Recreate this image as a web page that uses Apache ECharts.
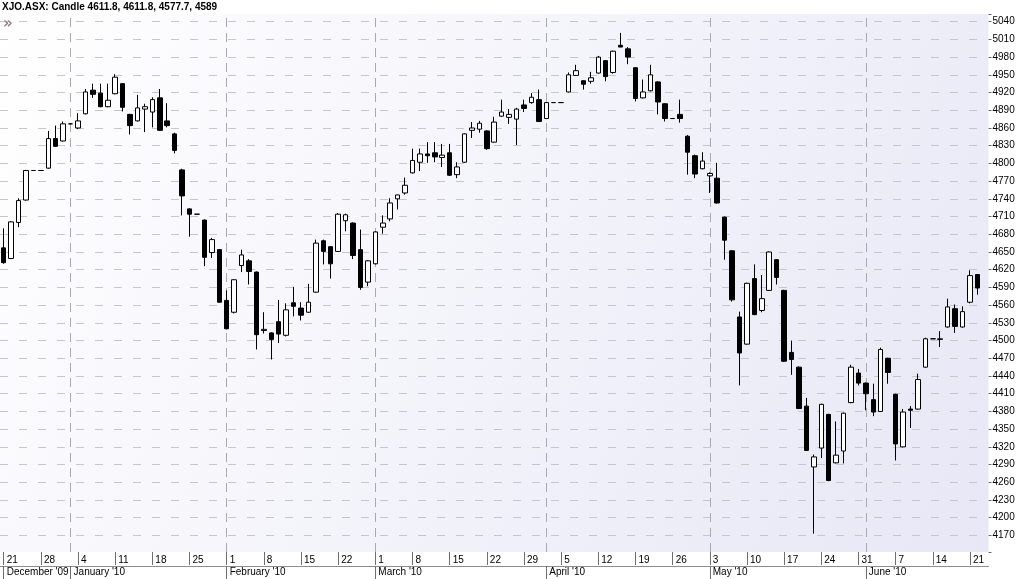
<!DOCTYPE html>
<html><head><meta charset="utf-8">
<script src="https://cdn.jsdelivr.net/npm/echarts@6/dist/echarts.min.js"></script>
<style>html,body{margin:0;padding:0;background:#fff}#c{width:1020px;height:579px}</style>
</head><body><div id="c"></div>
<script>
const symbol = 'XJO.ASX';
const dates = [
'2009-12-21','2009-12-22','2009-12-23','2009-12-24','2009-12-25',
'2009-12-28','2009-12-29','2009-12-30','2009-12-31','2010-01-01',
'2010-01-04','2010-01-05','2010-01-06','2010-01-07','2010-01-08',
'2010-01-11','2010-01-12','2010-01-13','2010-01-14','2010-01-15',
'2010-01-18','2010-01-19','2010-01-20','2010-01-21','2010-01-22',
'2010-01-25','2010-01-26','2010-01-27','2010-01-28','2010-01-29',
'2010-02-01','2010-02-02','2010-02-03','2010-02-04','2010-02-05',
'2010-02-08','2010-02-09','2010-02-10','2010-02-11','2010-02-12',
'2010-02-15','2010-02-16','2010-02-17','2010-02-18','2010-02-19',
'2010-02-22','2010-02-23','2010-02-24','2010-02-25','2010-02-26',
'2010-03-01','2010-03-02','2010-03-03','2010-03-04','2010-03-05',
'2010-03-08','2010-03-09','2010-03-10','2010-03-11','2010-03-12',
'2010-03-15','2010-03-16','2010-03-17','2010-03-18','2010-03-19',
'2010-03-22','2010-03-23','2010-03-24','2010-03-25','2010-03-26',
'2010-03-29','2010-03-30','2010-03-31','2010-04-01','2010-04-02',
'2010-04-05','2010-04-06','2010-04-07','2010-04-08','2010-04-09',
'2010-04-12','2010-04-13','2010-04-14','2010-04-15','2010-04-16',
'2010-04-19','2010-04-20','2010-04-21','2010-04-22','2010-04-23',
'2010-04-26','2010-04-27','2010-04-28','2010-04-29','2010-04-30',
'2010-05-03','2010-05-04','2010-05-05','2010-05-06','2010-05-07',
'2010-05-10','2010-05-11','2010-05-12','2010-05-13','2010-05-14',
'2010-05-17','2010-05-18','2010-05-19','2010-05-20','2010-05-21',
'2010-05-24','2010-05-25','2010-05-26','2010-05-27','2010-05-28',
'2010-05-31','2010-06-01','2010-06-02','2010-06-03','2010-06-04',
'2010-06-07','2010-06-08','2010-06-09','2010-06-10','2010-06-11',
'2010-06-14','2010-06-15','2010-06-16','2010-06-17','2010-06-18',
'2010-06-21','2010-06-22','2010-06-23'];

const openV = [4657,4639,4700,4738,4788, 4788,4792,4842,4838,4867, 4860,4884,4924,4919,4896, 4918,4935,4883,4872,4892, 4887,4911,4872,4850,4789, 4723,4714,4704,4649,4654, 4568,4548,4627,4635,4616, 4517,4513,4532,4509,4564, 4555,4548,4582,4669,4659, 4651,4703,4699,4654,4599, 4630,4692,4706,4740,4750, 4784,4802,4816,4818,4810, 4818,4781,4802,4856,4858, 4855,4836,4880,4878,4875, 4899,4903,4908,4876,4903, 4903,4921,4949,4940,4939, 4953,4974,4954,5000,4994, 4962,4911,4923,4938,4901, 4876,4883,4846,4813,4791, 4779,4775,4709,4652,4540, 4494,4605,4551,4585,4637, 4585,4480,4455,4389,4286, 4318,4375,4293,4313,4395, 4445,4428,4400,4380,4470, 4409,4320,4384,4384,4455, 4503,4502,4523,4554,4523, 4565,4611.8];
const highV = [4690,4702,4741,4789,4788, 4788,4855,4864,4871,4867, 4885,4926,4935,4935,4935, 4951,4936,4884,4916,4901, 4912,4926,4902,4852,4791, 4724,4714,4705,4674,4655, 4585,4604,4654,4638,4617, 4548,4514,4569,4563,4591, 4565,4596,4671,4671,4660, 4716,4715,4700,4688,4636, 4685,4712,4741,4747,4776, 4825,4825,4836,4836,4833, 4833,4802,4851,4870,4872, 4856,4879,4908,4892,4894, 4908,4919,4925,4904,4903, 4903,4954,4967,4941,4955, 4982,4975,4991,5021,4997, 4963,4942,4967,4939,4902, 4876,4908,4848,4815,4819, 4785,4801,4710,4653,4549, 4598,4629,4611,4651,4638, 4586,4500,4456,4403,4307, 4393,4376,4363,4378,4459, 4452,4429,4427,4488,4471, 4410,4384,4389,4444,4505, 4503,4516,4571,4561,4558, 4619,4611.8];
const lowV = [4630,4638,4692,4737,4788, 4788,4791,4828,4837,4867, 4858,4883,4911,4895,4895, 4917,4888,4849,4871,4853, 4861,4855,4861,4817,4712, 4676,4714,4626,4640,4564, 4519,4546,4616,4595,4485, 4512,4468,4496,4507,4541, 4534,4547,4581,4629,4605, 4650,4685,4638,4586,4592, 4629,4681,4702,4722,4747, 4783,4787,4801,4802,4794, 4779,4775,4801,4843,4852, 4823,4835,4879,4867,4831, 4887,4901,4870,4875,4903, 4903,4920,4948,4925,4935, 4952,4939,4952,4997,4968, 4905,4910,4922,4883,4871, 4876,4869,4781,4775,4790, 4750,4732,4637,4566,4424, 4493,4543,4548,4584,4595, 4464,4442,4384,4313,4173, 4301,4262,4292,4292,4394, 4424,4382,4372,4379,4427, 4297,4319,4352,4383,4454, 4503,4489,4522,4513,4522, 4563,4577.7];
const closeV = [4632,4701,4737,4788,4788, 4788,4842,4829,4867,4867, 4872,4921,4917,4896,4907, 4946,4895,4864,4894,4896, 4908,4856,4864,4822,4745, 4714,4714,4641,4671,4565, 4520,4603,4645,4617,4510, 4519,4502,4511,4552,4558, 4543,4565,4665,4651,4630, 4714,4713,4644,4590,4635, 4684,4699,4733,4746.6,4763, 4805,4816,4813,4811,4814, 4780,4794,4850,4860,4868, 4825,4870,4887,4883,4892, 4893,4912,4871,4903,4903, 4903,4950,4957,4934,4945, 4980,4947,4990,4997,4980, 4910,4921,4950,4904,4876, 4876,4876,4819,4782,4804, 4783,4733,4670,4569,4479, 4597,4544,4571,4650,4607, 4465,4468,4385,4314,4303, 4392,4263,4306,4377,4455, 4428,4410,4379,4485,4446, 4325,4379,4382,4434,4503, 4503,4503,4557,4524,4549, 4610,4589];

const priceTicks = [4170,4200,4230,4260,4290,4320,4350,4380,4410,4440,4470,4500,4530,4560,4590,4620,4650,4680,4710,4740,4770,4800,4830,4860,4890,4920,4950,4980,5010,5040];
const monthStartDates = ['2009-12-21','2010-01-01','2010-02-01','2010-03-01','2010-04-01','2010-05-03','2010-06-01'];
const monthLabels = ["December '09","January '10","February '10","March '10","April '10","May '10","June '10"];

const candleData = dates.map((d, i) => i < openV.length ? [openV[i], closeV[i], lowV[i], highV[i]] : '-');
const last = openV.length - 1;
const headerText = 'Candle ' + [openV[last], highV[last], lowV[last], closeV[last]].join(', ');

const FONT = 'Liberation Sans';
const isMonday = (i) => i % 5 === 0 && i < openV.length;
const isMonthStart = (i, v) => monthStartDates.indexOf(v) >= 0;

const gridMarks = priceTicks.map(v => ({ yAxis: v, lineStyle: { color: '#c6c6ce', type: [8, 11], width: 1 } }))
  .concat(monthStartDates.slice(1).map(d => ({ xAxis: d, lineStyle: { color: '#a9a9b2', type: [9, 6], width: 1 } })));

const chart = echarts.init(document.getElementById('c'), null, { renderer: 'canvas' });
chart.setOption({
  animation: false,
  backgroundColor: '#ffffff',
  title: {
    left: 2, top: 2, padding: 0,
    text: '{b|' + symbol + ':}{n| ' + headerText + '}',
    textStyle: {
      rich: {
        b: { fontFamily: FONT, fontSize: 10, fontWeight: 'bold', color: '#000' },
        n: { fontFamily: FONT, fontSize: 10, color: '#000' }
      }
    }
  },
  graphic: [
    { type: 'text', left: 3, top: 17, z: 10, style: { text: '\u00bb', fill: '#9c7f86', font: 'bold 15px "DejaVu Sans"' } }
  ],
  grid: {
    left: -1, right: 31.5, top: 14, bottom: 27,
    show: true, borderWidth: 0,
    backgroundColor: { type: 'linear', x: 0, y: 0, x2: 1, y2: 1,
      colorStops: [{ offset: 0, color: '#ffffff' }, { offset: 1, color: '#e7e7f6' }] }
  },
  xAxis: [
    {
      type: 'category', data: dates, boundaryGap: true, position: 'bottom',
      axisLine: { show: false },
      axisTick: { show: true, alignWithLabel: true, interval: isMonday, length: 13, lineStyle: { color: '#6e6e6e' } },
      axisLabel: { interval: isMonday, formatter: v => String(parseInt(v.slice(8), 10)), align: 'left',
        padding: [0, 0, 0, 3], margin: 3, fontFamily: FONT, fontSize: 10, color: '#000' },
      splitLine: { show: false }
    },
    {
      type: 'category', data: dates, boundaryGap: true, position: 'bottom', offset: 14,
      axisLine: { show: true, lineStyle: { color: '#8c8c8c' } },
      axisTick: { show: true, alignWithLabel: true, interval: isMonthStart, length: 13, lineStyle: { color: '#6e6e6e' } },
      axisLabel: { interval: isMonthStart, formatter: v => monthLabels[monthStartDates.indexOf(v)] || '', align: 'left',
        padding: [0, 0, 0, 3], margin: 1, fontFamily: FONT, fontSize: 10, color: '#000' },
      splitLine: { show: false }
    }
  ],
  yAxis: {
    type: 'value', position: 'right', min: 4142, max: 5053, scale: true,
    splitNumber: 30, minInterval: 30, maxInterval: 30,
    splitLine: { show: false },
    axisLine: { show: false },
    axisTick: { show: true, length: 3, lineStyle: { color: '#666' } },
    axisLabel: { margin: 4, padding: [2, 0, 0, 0], fontFamily: FONT, fontSize: 10, color: '#000',
      formatter: v => priceTicks.indexOf(Math.round(v)) >= 0 && Math.abs(v - Math.round(v)) < 1e-6 ? String(v) : '' }
  },
  series: [{
    type: 'candlestick',
    xAxisIndex: 0,
    data: candleData,
    barWidth: 5,
    z: 3,
    itemStyle: { color: '#ffffff', color0: '#000000', borderColor: '#000000', borderColor0: '#000000', borderWidth: 1 },
    emphasis: { disabled: true },
    markLine: {
      silent: true, symbol: 'none', z: 1, animation: false,
      label: { show: false },
      emphasis: { disabled: true },
      data: gridMarks
    }
  }]
});
</script></body></html>
